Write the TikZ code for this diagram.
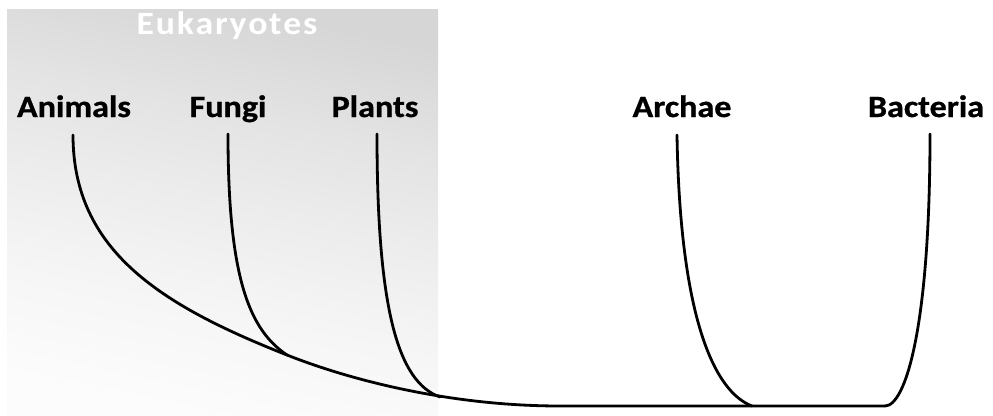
\documentclass[tikz,border=0pt]{standalone}
\usepackage{fontspec}
\usepackage{graphicx}
\setmainfont{Carlito}
\definecolor{gA}{RGB}{253,252,252}
\definecolor{gB}{RGB}{246,246,246}
\definecolor{gC}{RGB}{237,237,237}
\definecolor{gD}{RGB}{227,227,227}
\definecolor{gE}{RGB}{214,214,214}
\pgfdeclareverticalshading{eukshade}{100bp}{color(0bp)=(gA); color(25bp)=(gA); color(37.5bp)=(gB); color(50bp)=(gC); color(62.5bp)=(gD); color(75bp)=(gE); color(100bp)=(gE)}
\newcommand{\lbl}[1]{\scalebox{1.1}[1]{\fontsize{31}{31}\selectfont\bfseries\addfontfeature{FakeBold=0.8}#1}}
\newcommand{\spc}{\kern1.6pt}
\tikzset{
  taxon/.style={anchor=base, inner sep=0pt, text=black},
  branch/.style={line width=2.8pt, black, line cap=round, line join=round},
}
\begin{document}
\begin{tikzpicture}[x=1pt,y=-1pt]
\useasboundingbox (0,0) rectangle (993,415);
\fill[white] (0,0) rectangle (993,415);
\shade[shading=eukshade, shading angle=-12]
  (7,9) rectangle (438,415);
\node[taxon, text=white] (euk) at (227,34)
  {\scalebox{1.1}[1]{\fontsize{32.5}{32.5}\selectfont\bfseries E\spc u\spc k\spc a\spc r\spc y\spc o\spc t\spc e\spc s}};
\node[taxon] (animals) at (74,117) {\lbl{Animals}};
\node[taxon] (fungi) at (228,117) {\lbl{Fungi}};
\node[taxon] (plants) at (375,117) {\lbl{Plants}};
\node[taxon] (archae) at (682,117) {\lbl{Archae}};
\node[taxon] (bacteria) at (926,117) {\lbl{Bacteria}};
% branch tops
\coordinate (tA) at (73,135);
\coordinate (tF) at (228,134);
\coordinate (tP) at (377,134);
\coordinate (tR) at (677,135);
\coordinate (tB) at (930,134);
% junctions
\coordinate (jF) at (287,355);
\coordinate (jP) at (440,397);
\coordinate (flat) at (560,406);
\coordinate (jR) at (752,406);
\coordinate (jB) at (885,406);
% trunk
\draw[branch] (tA) .. controls (73,250) and (160,305) .. (jF)
  .. controls (350,380) and (450,406) .. (flat) -- (jB);
\draw[branch] (tF) .. controls (228,280) and (250,330) .. (jF);
\draw[branch] (tP) .. controls (377,310) and (398,382) .. (jP);
\draw[branch] (tR) .. controls (680,320) and (715,392) .. (jR);
\draw[branch] (tB) .. controls (930,330) and (905,406) .. (jB);
\end{tikzpicture}
\end{document}
